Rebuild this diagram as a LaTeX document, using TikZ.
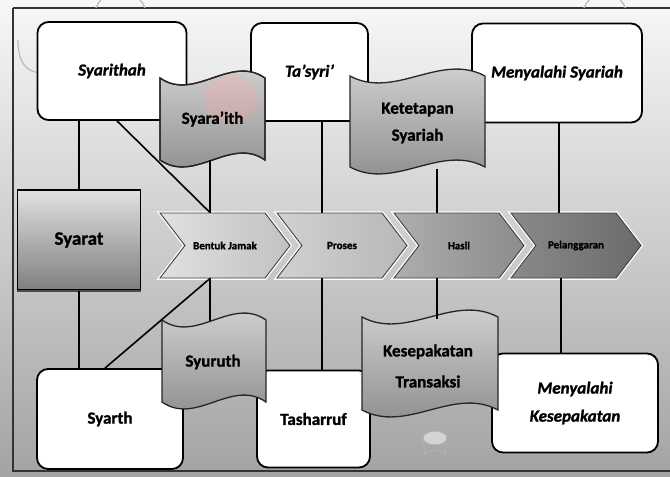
\documentclass[tikz,border=0pt]{standalone}
\usepackage{fontspec}
\setmainfont{Carlito}[BoldFeatures={FakeBold=1.3}, BoldItalicFeatures={FakeBold=1.3}]
\usetikzlibrary{shapes.symbols,calc,fadings}
% wavy tape outline between left #2, top #3, right #4, bottom #5
\newcommand{\tapepath}[5]{%
  \pgfmathsetmacro{\tA}{#2+0.33*(#4-#2)}%
  \pgfmathsetmacro{\tB}{#2+0.67*(#4-#2)}%
  \path[#1] (#2,#3) .. controls (\tA,#3+24) and (\tB,#3-24) .. (#4,#3)
    -- (#4,#5) .. controls (\tB,#5-24) and (\tA,#5+24) .. (#2,#5) -- cycle;}
\begin{document}
\begin{tikzpicture}[x=1pt,y=-1pt,
  whitebox/.style={draw=black, line width=1.8pt, rounded corners=11pt, fill=white, inner sep=0pt, align=center},
  ital/.style={font=\bfseries\itshape\fontsize{17}{19}\selectfont},
  upright/.style={font=\bfseries\fontsize{17}{19}\selectfont},
  tapefill/.style={draw=black!85, line width=1.3pt, top color=black!16, bottom color=black!46},
  tapetext/.style={font=\bfseries\fontsize{17}{19}\selectfont, align=center, inner sep=0pt},
  syaratbox/.style={draw=black, line width=1.6pt, top color=black!12, bottom color=black!50,
    inner sep=0pt, font=\bfseries\fontsize{19}{21}\selectfont},
  chevron/.style={shape=signal, signal from=west, signal to=east, signal pointer angle=105,
    minimum width=130pt, minimum height=65pt, inner sep=0pt, draw=black!75, line width=0.9pt,
    preaction={draw=white, line width=3.5pt},
    font=\bfseries\fontsize{11}{12}\selectfont},
  link/.style={line width=1.6pt, draw=black},
  deco/.style={draw=gray!55, line width=1.2pt}
]
\useasboundingbox (0,0) rectangle (670,477);
% backdrop
\shade[top color=black!3, middle color=black!12, bottom color=black!36] (0,0) rectangle (670,477);
\draw[line width=1.6pt, black!80] (13,8) -- (672,8);
\draw[line width=1.6pt, black!80] (13,8) -- (13,471) -- (672,471);
% ornaments of the backdrop
\draw[deco] (96,8) arc[start angle=200, end angle=340, radius=26];
\draw[deco] (584,8) arc[start angle=200, end angle=340, radius=22];
\draw[deco] (18,40) .. controls (18,62) and (25,71) .. (40,73);
\fill[white, opacity=0.5] (435,438) ellipse[x radius=12, y radius=7];
\draw[gray!60, line width=1pt] (435,438) ellipse[x radius=12, y radius=7];
\draw[gray!60, line width=1pt] (423,438) -- (425,455) arc[start angle=180, end angle=360, x radius=10, y radius=5] -- (447,438);

% white boxes
\node[whitebox, ital, minimum width=149pt, minimum height=98pt] (syarithah) at (112,71) {Syarithah};
\node[whitebox, ital, minimum width=117pt, minimum height=98pt] (tasyri) at (309.5,72) {Ta'syri'};
\node[whitebox, ital, minimum width=170pt, minimum height=99pt] (mensyariah) at (557,73) {Menyalahi Syariah};
\node[whitebox, upright, minimum width=146pt, minimum height=100pt] (syarth) at (110,419) {Syarth};
\node[whitebox, upright, minimum width=113pt, minimum height=97pt] (tasharruf) at (313.5,419) {Tasharruf};
\node[whitebox, ital, minimum width=166pt, minimum height=99pt] (menkesepakatan) at (575,403)
  {Menyalahi\\[9pt]Kesepakatan};

% wavy tapes
\tapepath{tapefill}{160}{78}{265}{160}
\begin{scope}
  \clip (160,60) rectangle (265,170);
  \fill[red!35!white, opacity=0.3, path fading=circle with fuzzy edge 20 percent] (230,98) ellipse[x radius=30, y radius=26];
\end{scope}
\tapepath{draw=black!85, line width=1.3pt}{160}{78}{265}{160}
\node[tapetext, minimum width=105pt, minimum height=82pt] (syaraith) at (212.5,119) {Syara'ith};
\tapepath{tapefill}{350}{76}{485}{167}
\node[tapetext, minimum width=135pt, minimum height=91pt] (ketetapan) at (417.5,123)
  {Ketetapan\\[8pt]Syariah};
\tapepath{tapefill}{162}{320}{266}{402}
\node[tapetext, minimum width=104pt, minimum height=82pt] (syuruth) at (213,362) {Syuruth};
\tapepath{tapefill}{362}{317}{498}{410}
\node[tapetext, minimum width=136pt, minimum height=93pt] (transaksi) at (428,366)
  {Kesepakatan\\[12pt]Transaksi};

% the left block
\node[syaratbox, minimum width=123pt, minimum height=100pt] (syarat) at (79,240) {Syarat};
\draw[line width=2.5pt, black!70] (syarat.south west) -- (syarat.south east);

% chevron row
\node[chevron, left color=black!12, right color=black!24] (c1) at (225,245.5) {Bentuk Jamak};
\node[chevron, left color=black!18, right color=black!28] (c2) at (342,245.5) {Proses};
\node[chevron, left color=black!32, right color=black!45] (c3) at (459,245.5) {Hasil};
\node[chevron, left color=black!46, right color=black!58] (c4) at (576,245.5) {Pelanggaran};

% connection points on the chevrons
\coordinate (k1) at ([xshift=-15pt]c1.north);
\coordinate (b1) at ([xshift=-15pt]c1.south);
\coordinate (k2) at ([xshift=-20pt]c2.north);
\coordinate (b2) at ([xshift=-20pt]c2.south);
\coordinate (k3) at ([xshift=-22pt]c3.north);
\coordinate (b3) at ([xshift=-22pt]c3.south);
\coordinate (k4) at ([xshift=-17pt]c4.north);
\coordinate (b4) at ([xshift=-15pt]c4.south);

% connectors
\draw[link] (syarithah.south -| syarat.north) -- (syarat.north);
\draw[link] ([xshift=5pt]syarithah.south) -- (k1);
\draw[link] (syaraith.south -| k1) -- (k1);
\draw[link] (tasyri.south -| k2) -- (k2);
\draw[link] (ketetapan.south -| k3) -- (k3);
\draw[link] (mensyariah.south -| k4) -- (k4);
\draw[link] (syarat.south) -- (syarat.south |- syarth.north);
\draw[link] (b1) -- ([xshift=-5pt]syarth.north);
\draw[link] (b1) -- (b1 |- syuruth.north);
\draw[link] (b2) -- (b2 |- tasharruf.north);
\draw[link] (b3) -- (b3 |- transaksi.north);
\draw[link] (b4) -- (b4 |- menkesepakatan.north);
\end{tikzpicture}
\end{document}
